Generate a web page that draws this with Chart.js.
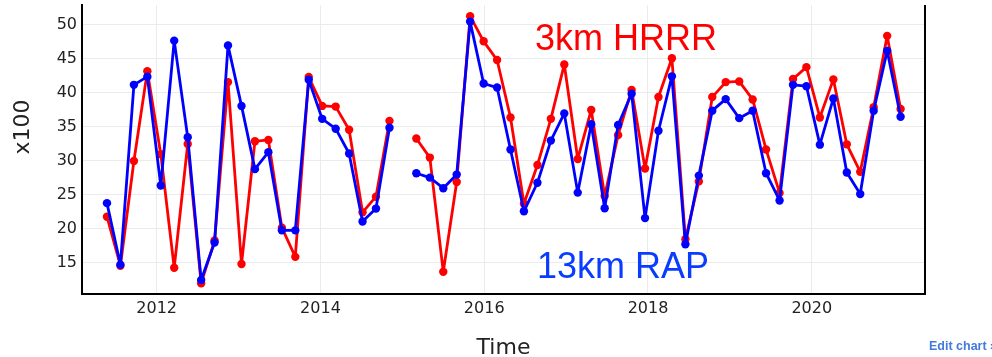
<!DOCTYPE html>
<html>
<head>
<meta charset="utf-8">
<script src="https://cdn.jsdelivr.net/npm/chart.js@4/dist/chart.umd.min.js"></script>
<style>
  html, body { margin: 0; padding: 0; background: #fff; overflow: hidden; }
  #wrap { position: relative; width: 992px; height: 357px; overflow: hidden; }
  #editLink {
    position: absolute; left: 929px; top: 339px; width: 120px;
    font: bold 12.5px "Liberation Sans", Arial, sans-serif;
    color: #447adb; white-space: nowrap;
  }
</style>
</head>
<body>
<div id="wrap">
  <canvas id="chart" width="992" height="357"></canvas>
  <div id="editLink">Edit chart »</div>
</div>
<script>
// sample dates, decimal years (every 60 days)
const dates = [
  2011.393, 2011.557, 2011.722, 2011.886, 2012.050, 2012.214, 2012.379, 2012.543,
  2012.707, 2012.871, 2013.036, 2013.200, 2013.364, 2013.529, 2013.693, 2013.857,
  2014.021, 2014.186, 2014.350, 2014.514, 2014.678, 2014.843, 2015.007, 2015.171,
  2015.336, 2015.500, 2015.664, 2015.828, 2015.993, 2016.157, 2016.321, 2016.485,
  2016.650, 2016.814, 2016.978, 2017.142, 2017.307, 2017.471, 2017.635, 2017.800,
  2017.964, 2018.128, 2018.292, 2018.457, 2018.621, 2018.785, 2018.949, 2019.114,
  2019.278, 2019.442, 2019.607, 2019.771, 2019.935, 2020.099, 2020.264, 2020.428,
  2020.592, 2020.756, 2020.921, 2021.085
];

const hrrr = [
  21.8, 14.6, 30.0, 43.2, 31.0, 14.3, 32.5, 12.0,
  18.3, 41.6, 14.85, 32.9, 33.1, 20.2, 15.9, 42.35,
  38.1, 38.0, 34.6, 22.45, 24.75, 35.9, null, 33.3,
  30.5, 13.7, 26.9, 51.3, 47.6, 44.85, 36.4, 23.7,
  29.4, 36.2, 44.2, 30.3, 37.5, 24.85, 33.8, 40.45,
  28.9, 39.4, 45.1, 18.5, 27.0, 39.4, 41.6, 41.7,
  39.05, 31.7, 25.3, 42.05, 43.8, 36.4, 42.0, 32.45,
  28.4, 37.9, 48.4, 37.65
];

const rap = [
  23.8, 14.75, 41.2, 42.4, 26.4, 47.7, 33.5, 12.5,
  18.0, 47.0, 38.1, 28.8, 31.3, 19.8, 19.8, 41.95,
  36.2, 34.75, 31.1, 21.1, 23.0, 34.9, null, 28.2,
  27.55, 26.0, 28.0, 50.5, 41.4, 40.8, 31.7, 22.6,
  26.8, 33.0, 37.0, 25.35, 35.4, 23.05, 35.3, 39.9,
  21.6, 34.45, 42.45, 17.75, 27.85, 37.4, 39.1, 36.3,
  37.4, 28.2, 24.2, 41.2, 41.0, 32.4, 39.2, 28.3,
  25.15, 37.4, 46.2, 36.5
];

const xTicks = [2012, 2014, 2016, 2018, 2020];
const yTicks = [15, 20, 25, 30, 35, 40, 45, 50];

const tickFont = { family: "'DejaVu Sans', Verdana, sans-serif", size: 16 };
const textColor = "#222";

function toPoints(values) {
  return values.map((v, i) => ({ x: dates[i], y: v }));
}

function lineSet(label, values, color, order) {
  return {
    label,
    data: toPoints(values),
    borderColor: color,
    backgroundColor: color,
    pointBackgroundColor: color,
    borderWidth: 2.8,
    borderJoinStyle: "round",
    pointRadius: 4.2,
    pointBorderWidth: 0,
    tension: 0,
    spanGaps: false,
    order
  };
}

// right frame line, y axis title and the two model labels
const extrasPlugin = {
  id: "extras",
  afterDraw(chart) {
    const { ctx, chartArea, scales } = chart;
    ctx.save();
    ctx.strokeStyle = "#000";
    ctx.lineWidth = 2;
    ctx.beginPath();
    ctx.moveTo(chartArea.right, chartArea.top);
    ctx.lineTo(chartArea.right, chartArea.bottom + 1);
    ctx.stroke();

    ctx.fillStyle = textColor;
    ctx.font = "22px 'DejaVu Sans', Verdana, sans-serif";
    ctx.textAlign = "center";
    ctx.textBaseline = "middle";
    ctx.translate(chartArea.left - 59, scales.y.getPixelForValue(35));
    ctx.rotate(-Math.PI / 2);
    ctx.fillText("x100", 0, 0);
    ctx.restore();

    ctx.save();
    ctx.font = "36px 'Liberation Sans', Arial, sans-serif";
    ctx.textAlign = "left";
    ctx.textBaseline = "alphabetic";
    ctx.fillStyle = "#ff0000";
    ctx.fillText("3km HRRR", scales.x.getPixelForValue(2016.62), scales.y.getPixelForValue(46.3));
    ctx.fillStyle = "#0a3cff";
    ctx.fillText("13km RAP", scales.x.getPixelForValue(2016.645), scales.y.getPixelForValue(12.8));
    ctx.restore();
  }
};

function makeChart() {
  const ctx = document.getElementById("chart").getContext("2d");
  return new Chart(ctx, {
    type: "line",
    data: {
      datasets: [
        lineSet("3km HRRR", hrrr, "#ff0000", 1),
        lineSet("13km RAP", rap, "#0000ff", 0)
      ]
    },
    options: {
      responsive: false,
      animation: false,
      layout: { padding: { top: 5, right: 67, left: 0, bottom: 0 } },
      plugins: {
        legend: { display: false },
        tooltip: { enabled: false }
      },
      scales: {
        x: {
          type: "linear",
          min: 2011.088,
          max: 2021.383,
          afterFit: s => { s.height = 63; s.paddingLeft = 0; s.paddingRight = 0; },
          afterBuildTicks: s => { s.ticks = xTicks.map(v => ({ value: v })); },
          ticks: {
            font: tickFont,
            color: textColor,
            padding: 5,
            maxRotation: 0,
            callback: v => String(v)
          },
          grid: { color: "#ebebeb", lineWidth: 1, drawTicks: false },
          border: { display: true, color: "#000", width: 2 },
          title: {
            display: true,
            text: "Time",
            color: textColor,
            font: { family: "'DejaVu Sans', Verdana, sans-serif", size: 22, lineHeight: 0.8 },
            padding: 0
          }
        },
        y: {
          type: "linear",
          min: 10.44,
          max: 52.94,
          afterFit: s => { s.width = 82; s.paddingTop = 0; s.paddingBottom = 0; },
          afterBuildTicks: s => { s.ticks = yTicks.map(v => ({ value: v })); },
          ticks: {
            font: tickFont,
            color: textColor,
            padding: 5,
            callback: v => String(v)
          },
          grid: { color: "#ebebeb", lineWidth: 1, drawTicks: false },
          border: { display: true, color: "#000", width: 2 }
        }
      }
    },
    plugins: [extrasPlugin]
  });
}

makeChart();
</script>
</body>
</html>
